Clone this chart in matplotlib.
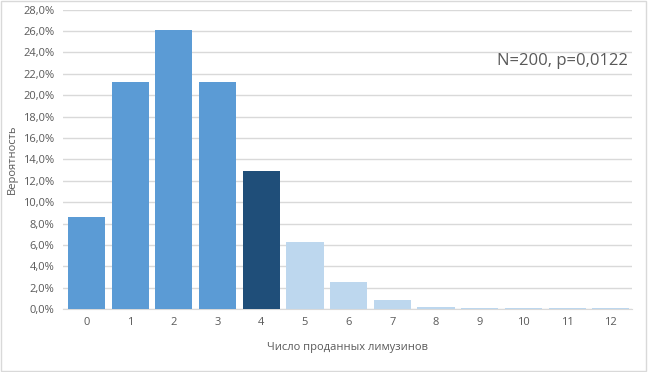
import numpy as np
import matplotlib.pyplot as plt
from matplotlib.ticker import FuncFormatter

plt.rcParams['font.family'] = ['Open Sans', 'DejaVu Sans']

# Data
counts = list(range(13))
probs = [8.6, 21.2, 26.1, 21.2, 12.9, 6.3, 2.5, 0.86, 0.24, 0.12, 0.11, 0.11, 0.11]
colors = ['#5B9BD5'] * 4 + ['#1F4E79'] + ['#BDD7EE'] * 8

fig = plt.figure(figsize=(6.48, 3.72), dpi=100)
ax = fig.add_axes([0.097, 0.169, 0.878, 0.805])

ax.bar(counts, probs, width=0.85, color=colors, zorder=3)

ax.set_xlim(-0.54, 12.48)
ax.set_ylim(0, 28)
ax.set_yticks(np.arange(0, 28.1, 2))
ax.yaxis.set_major_formatter(FuncFormatter(lambda v, p: f'{v:.1f}%'.replace('.', ',')))
ax.set_xticks(counts)
ax.grid(axis='y', color='#D9D9D9', linewidth=1, zorder=0)
for s in ['top', 'right', 'left']:
    ax.spines[s].set_visible(False)
ax.spines['bottom'].set_color('#D9D9D9')
ax.spines['bottom'].set_zorder(2)
ax.tick_params(length=0, labelsize=8, colors='#595959', pad=6)

ax.set_xlabel('Число проданных лимузинов', fontsize=8, color='#595959', labelpad=10)
ax.set_ylabel('Вероятность', fontsize=8, color='#595959', labelpad=4)

ax.text(0.993, 0.83, 'N=200, p=0,0122', transform=ax.transAxes, ha='right', va='center',
        fontsize=12, color='#595959')

# outer frame
fig.patches.append(plt.Rectangle((0.002, 0.003), 0.995, 0.994, transform=fig.transFigure,
                                 fill=False, edgecolor='#D9D9D9', linewidth=1))

fig.savefig('out.png', dpi=100)
